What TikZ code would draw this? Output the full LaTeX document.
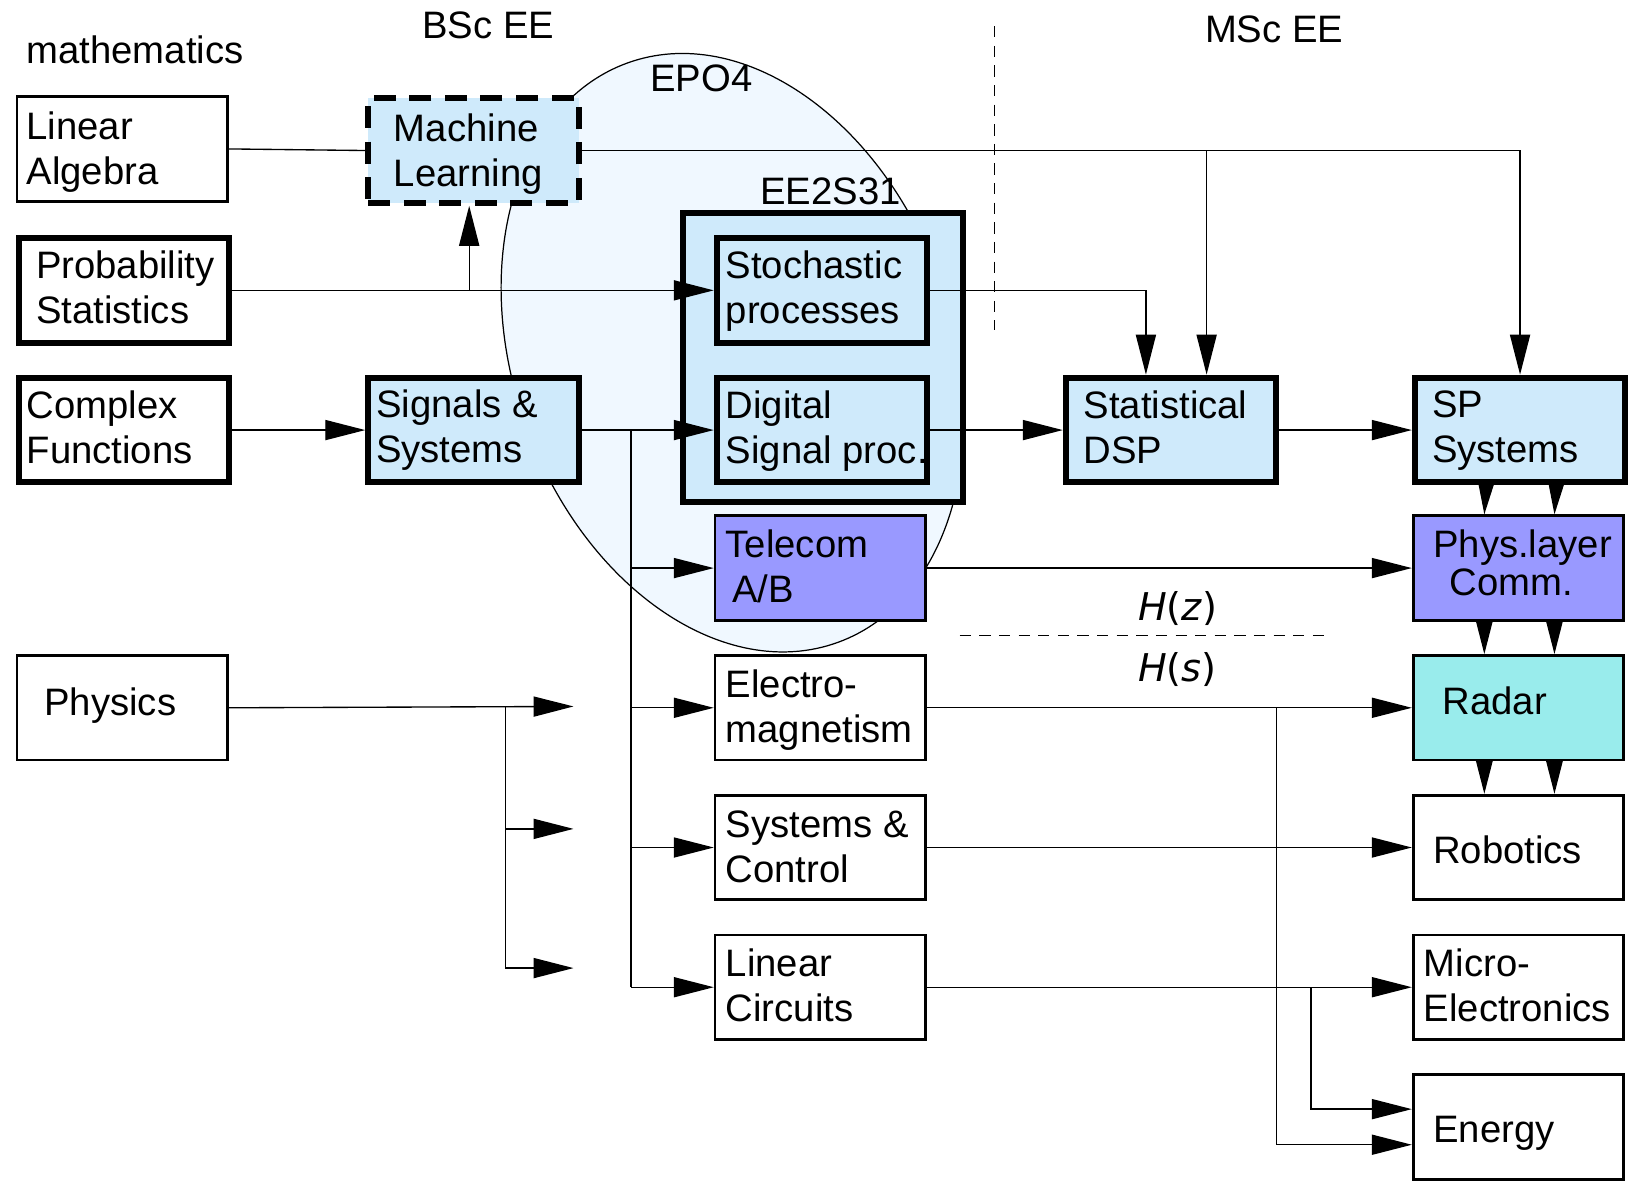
\documentclass[tikz,border=0pt]{standalone}
\usepackage{fontspec}
\setmainfont{Liberation Sans}
\newfontfamily\hfont{DejaVu Sans}
\usetikzlibrary{arrows.meta,calc}
\definecolor{lblue}{RGB}{207,234,251}
\definecolor{epo}{RGB}{240,248,255}
\definecolor{purp}{RGB}{153,153,255}
\definecolor{cyanr}{RGB}{153,236,236}
\pgfdeclarelayer{bg}
\pgfdeclarelayer{mid}
\pgfsetlayers{bg,mid,main}
\begin{document}
\begin{tikzpicture}[x=0.015cm,y=-0.015cm,
  box/.style={draw, rectangle, anchor=north west, minimum width=3.015cm, minimum height=1.5cm, inner sep=0pt, line width=1.1pt, fill=white},
  thk/.style={line width=2.5pt},
  bluefill/.style={fill=lblue},
  txt/.style={anchor=base west, align=left, inner sep=0pt, font=\fontsize{15.6}{18.4}\selectfont},
  txttwo/.style={txt, yshift=-18.4pt},
  conn/.style={line width=0.55pt},
  arr/.style={conn, -{Triangle[length=16.3pt,width=8.2pt]}},
  dashline/.style={line width=0.5pt, dash pattern=on 4.6pt off 3.4pt}
]
\useasboundingbox (0,0) rectangle (1568,1129);

% background: ellipse EPO4 and EE2S31 frame
\begin{pgfonlayer}{bg}
\draw[line width=0.5pt, fill=epo, rotate around={20:(700,337)}] (700,337) ellipse [x radius=209.5, y radius=294.5];
\node[box, thk, bluefill, minimum width=4.005cm, minimum height=4.14cm] (ee) at (650,201) {};
\end{pgfonlayer}

% boxes
\node[box] (la) at (15,91) {};
\node[box, bluefill, line width=2.4pt, dash pattern=on 9pt off 5.5pt] (ml) at (349,91) {};
\node[box, thk] (ps) at (15,224.5) {};
\node[box, thk] (cf) at (15,358) {};
\node[box, thk, bluefill] (ss) at (349,358) {};
\node[box, thk, bluefill] (sp) at (682,224.5) {};
\node[box, thk, bluefill] (dsp) at (682,358) {};
\node[box, thk, bluefill] (sdsp) at (1015.5,358) {};
\node[box, thk, bluefill] (sps) at (1349,358) {};
\node[box, fill=purp] (tel) at (682,491.5) {};
\node[box, fill=purp] (phy) at (1349,491.5) {};
\node[box] (phs) at (15,625) {};
\node[box] (em) at (682,625) {};
\node[box, fill=cyanr] (rad) at (1349,625) {};
\node[box] (sc) at (682,758.5) {};
\node[box] (rob) at (1349,758.5) {};
\node[box] (lc) at (682,892) {};
\node[box] (mic) at (1349,892) {};
\node[box] (en) at (1349,1025.5) {};

% connectors
\begin{pgfonlayer}{mid}
\draw[conn] (la.east) -- (ml.west);
\draw[arr] (ml.east) -| (sps.north);
\coordinate (b1) at ($(sdsp.north)+(34,0)$);
\draw[arr] (ml.east -| b1) -- (b1);
\draw[arr] (ps.east) -- (sp.west);
\coordinate (b2) at ($(ml.south)+(-4,0)$);
\draw[arr] (ps.east -| b2) -- (b2);
\coordinate (b3) at ($(sdsp.north)+(-24,0)$);
\draw[arr] (sp.east) -| (b3);
\draw[arr] (cf.east) -- (ss.west);
\draw[arr] (ss.east) -- (dsp.west);
\coordinate (b4) at ($(ss.east)+(47,0)$);
\draw[conn] (b4) -- (b4 |- lc.west);
\foreach \t in {tel,em,sc,lc} \draw[arr] (b4 |- \t.west) -- (\t.west);
\draw[arr] (dsp.east) -- (sdsp.west);
\draw[arr] (sdsp.east) -- (sps.west);
\draw[arr] (tel.east) -- (phy.west);
\draw[arr] (em.east) -- (rad.west);
\draw[arr] (sc.east) -- (rob.west);
\draw[arr] (lc.east) -- (mic.west);
\coordinate (e1) at ($(en.west)+(0,17)$);
\coordinate (e2) at ($(en.west)+(0,-17)$);
\coordinate (j1) at ($(em.east)+(334,0)$);
\coordinate (j2) at ($(lc.east)+(367,0)$);
\draw[arr] (j1) |- (e1);
\draw[arr] (j2) |- (e2);
\coordinate (p1) at (548,675);
\coordinate (p2) at (548,792);
\coordinate (p3) at (548,925);
\coordinate (pj) at (483,675);
\draw[arr] (phs.east) -- (p1);
\draw[conn] (pj) -- (pj |- p3);
\draw[arr] (pj |- p2) -- (p2);
\draw[arr] (pj |- p3) -- (p3);
\foreach \a/\b in {sps/phy, phy/rad, rad/rob}
  \foreach \dx in {-32.5, 34.5}
    \draw[arr] ($(\a.south)+(\dx,0)$) -- ($(\b.north)+(\dx,0)$);
\end{pgfonlayer}

% dashed separators
\draw[dashline] (950,25) -- (950,315);
\draw[dashline] (917,607) -- (1268,607);

% texts
\node[txt] (t0) at (25,61) {mathematics};
\node[txt] (t1) at (403,37) {BSc EE};
\node[txt] (t2) at (1151,41) {MSc EE};
\node[txt] (t3) at (621,87) {EPO4};
\node[txt] (t4) at (726,195) {EE2S31};
\node[txttwo] (t5) at (25,133) {Linear\\Algebra};
\node[txttwo] (t6) at (376,135) {Machine\\Learning};
\node[txttwo] (t7) at (34,266) {Probability\\Statistics};
\node[txttwo] (t8) at (25,400) {Complex\\Functions};
\node[txttwo] (t9) at (359,399) {Signals \&\\Systems};
\node[txttwo] (t10) at (693,266) {Stochastic\\processes};
\node[txttwo] (t11) at (693,400) {Digital\\Signal proc.};
\node[txttwo] (t12) at (1035,400) {Statistical\\DSP};
\node[txttwo] (t13) at (1368,399) {SP\\Systems};
\node[txttwo] (t14) at (693,532.5) {Telecom\\\hspace*{2.6pt}A/B};
\node[txt, yshift=-15.4pt] (t15) at (1369,532.5) {Phys.layer\\[-3pt]\hspace*{6.6pt}Comm.};
\node[txttwo] (t16) at (693,666) {Electro-\\magnetism};
\node[txttwo] (t17) at (693,800) {Systems \&\\Control};
\node[txttwo] (t18) at (693,933) {Linear\\Circuits};
\node[txttwo] (t19) at (1360,933) {Micro-\\Electronics};
\node[txt] (t20) at (42,684) {Physics};
\node[txt] (t21) at (1378,683) {Radar};
\node[txt] (t22) at (1369,825) {Robotics};
\node[txt] (t23) at (1369,1092) {Energy};
\node[txt, font=\hfont\fontsize{15.6}{18.4}\selectfont] (t24) at (1087,593) {\textit{H}(\textit{z})};
\node[txt, font=\hfont\fontsize{15.6}{18.4}\selectfont] (t25) at (1087,651) {\textit{H}(\textit{s})};
\end{tikzpicture}
\end{document}
